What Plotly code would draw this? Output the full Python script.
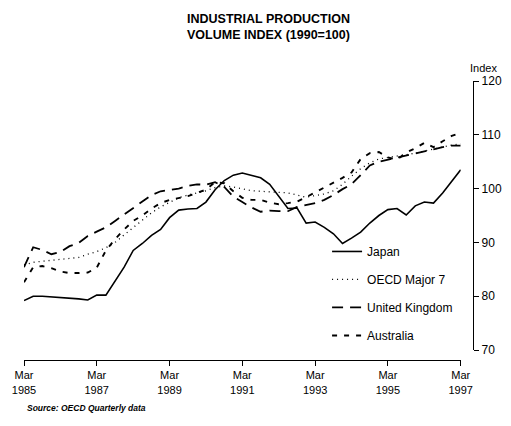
import pandas as pd
import plotly.graph_objects as go

# Quarterly observations, Mar 1985 .. Mar 1997 (1990 = 100)
quarters = pd.date_range("1985-03-01", periods=49, freq="3MS")

japan = [79.2, 80.0, 80.0, 79.9, 79.8, 79.7, 79.5, 79.3, 80.2, 80.2,
         82.8, 85.4, 88.5, 89.8, 91.3, 92.4, 94.6, 96.0, 96.2, 96.3,
         97.5, 99.8, 101.5, 102.5, 102.9, 102.5, 102.0, 100.8, 98.6, 96.3,
         96.4, 93.6, 93.8, 92.8, 91.6, 89.8, 90.8, 91.9, 93.6, 95.0,
         96.1, 96.3, 95.1, 96.8, 97.5, 97.3, 99.2, 101.3, 103.5]

oecd_major7 = [85.8, 86.3, 86.5, 86.7, 86.8, 87.0, 87.2, 87.8, 88.3, 89.0,
               90.0, 91.4, 92.8, 94.2, 95.5, 96.6, 97.5, 98.3, 98.8, 99.2,
               99.6, 100.2, 100.5, 100.3, 99.9, 99.6, 99.5, 99.4, 99.3, 99.2,
               98.8, 98.4, 98.7, 99.0, 99.6, 100.8, 102.3, 103.7, 104.8, 105.5,
               105.8, 106.0, 106.3, 106.6, 107.0, 107.4, 107.8, 108.1, 108.3]

united_kingdom = [85.4, 89.1, 88.6, 87.8, 88.2, 89.3, 89.9, 91.2, 92.0, 92.8,
                  94.0, 95.2, 96.4, 97.5, 98.8, 99.5, 99.8, 100.0, 100.5, 100.8,
                  100.7, 101.2, 100.3, 98.5, 97.5, 96.5, 95.7, 95.9, 95.8, 95.8,
                  96.6, 97.0, 97.3, 97.9, 98.8, 99.9, 100.8, 102.5, 104.3, 105.0,
                  105.4, 105.8, 106.2, 106.6, 106.9, 107.3, 107.7, 108.0, 108.0]

australia = [82.6, 85.4, 85.6, 85.2, 84.6, 84.3, 84.3, 84.4, 85.3, 88.5,
             90.6, 92.4, 94.0, 95.0, 96.3, 97.3, 97.9, 98.3, 98.6, 99.2,
             99.8, 101.2, 101.0, 99.5, 98.3, 97.9, 97.9, 97.4, 97.1, 97.3,
             97.6, 98.4, 99.3, 100.2, 101.0, 102.0, 103.0, 105.5, 106.6, 106.8,
             105.8, 105.4, 106.7, 107.5, 108.5, 107.7, 108.8, 109.8, 110.4]

tick_years = [1985, 1987, 1989, 1991, 1993, 1995, 1997]
y_ticks = [70, 80, 90, 100, 110, 120]

FONT = "Liberation Sans, Arial, sans-serif"

series = [
    ("Japan", japan, dict(color="black", width=1.6, dash="solid")),
    ("OECD Major 7", oecd_major7, dict(color="black", width=1.3, dash="1px,4px")),
    ("United Kingdom", united_kingdom, dict(color="black", width=1.8, dash="11px,7px")),
    ("Australia", australia, dict(color="black", width=1.9, dash="5px,7px")),
]

fig = go.Figure()
for name, values, line in series:
    fig.add_trace(go.Scatter(
        x=quarters, y=values, mode="lines", name=name,
        line=line, legendgroup=name,
    ))

tick_dates = [pd.Timestamp(f"{y}-03-01") for y in tick_years]

fig.update_layout(
    width=511, height=426,
    margin=dict(l=24, r=38, t=81, b=66),
    paper_bgcolor="white", plot_bgcolor="white",
    font=dict(family=FONT, color="black", size=12),
    showlegend=True,
    legend=dict(
        x=0.675, y=0.441, xanchor="left", yanchor="top",
        bgcolor="rgba(0,0,0,0)", font=dict(size=12, family=FONT),
        tracegroupgap=9, itemwidth=30,
    ),
    xaxis=dict(
        domain=[0, 0.9726], anchor="free", position=0,
        range=[tick_dates[0], tick_dates[-1]],
        tickvals=tick_dates,
        ticktext=[f"Mar<br>{y}" for y in tick_years],
        ticks="outside", ticklen=5, tickwidth=1.3, tickcolor="black",
        showline=True, linecolor="black", linewidth=1.3,
        showgrid=False, zeroline=False, automargin=False,
        tickfont=dict(size=11, family=FONT),
    ),
    yaxis=dict(
        domain=[0.0358, 1], anchor="free", position=1, side="right",
        range=[70, 120], tickvals=y_ticks,
        ticks="outside", ticklen=5, tickwidth=1.3, tickcolor="black",
        showline=True, linecolor="black", linewidth=1.3,
        showgrid=False, zeroline=False, automargin=False,
        tickfont=dict(size=12, family=FONT),
    ),
)

annotations = [
    dict(text="<b>INDUSTRIAL PRODUCTION<br>VOLUME INDEX (1990=100)</b>",
         x=268, y=26.5, size=12.5),
    dict(text="Index", x=483, y=68, size=11),
]
for a in annotations:
    fig.add_annotation(
        text=a["text"], xref="paper", yref="paper",
        x=(a["x"] - 24) / 449, y=(360 - a["y"]) / 279,
        xanchor="center", yanchor="middle", showarrow=False,
        font=dict(size=a["size"], family=FONT, color="black"),
    )

fig.add_annotation(
    text="<b><i>Source: OECD Quarterly data</i></b>",
    xref="paper", yref="paper", x=(25 - 24) / 449, y=(360 - 408) / 279,
    xanchor="left", yanchor="middle", showarrow=False,
    font=dict(size=8.5, family=FONT, color="black"),
)

fig.write_html("out.html")
